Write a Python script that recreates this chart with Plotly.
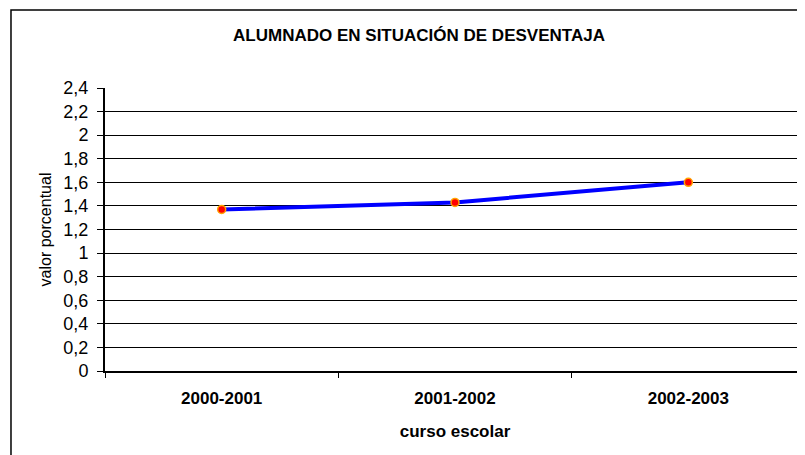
import plotly.graph_objects as go

# data
cursos = ['2000-2001', '2001-2002', '2002-2003']
valores = [1.37, 1.43, 1.60]
y_ticks = [0, 0.2, 0.4, 0.6, 0.8, 1, 1.2, 1.4, 1.6, 1.8, 2, 2.2, 2.4]

font_family = 'Liberation Sans, Arial, sans-serif'

fig = go.Figure()
fig.add_trace(go.Scatter(
    x=cursos, y=valores, mode='lines+markers',
    line=dict(color='#0000ff', width=4),
    marker=dict(color='#ff0000', size=8, line=dict(color='#ffa500', width=1.5)),
    showlegend=False
))

# the page adds an 8px body margin, so the figure is 8px smaller
fig.update_layout(
    width=797, height=447,
    margin=dict(l=97, r=0, t=80, b=84),
    paper_bgcolor='white', plot_bgcolor='white',
    font=dict(family=font_family, color='black', size=16),
    title=dict(text='<b>ALUMNADO EN SITUACIÓN DE DESVENTAJA</b>',
               x=0.4486, xref='paper', xanchor='center',
               y=1 - 27 / 447, yref='container', yanchor='middle',
               font=dict(size=17, family=font_family)),
    # outer chart border
    shapes=[dict(type='rect', xref='paper', yref='paper',
                 x0=-0.1343, x1=1.05, y0=-0.5, y1=1.2756,
                 line=dict(color='black', width=1.5), layer='below')]
)

fig.update_xaxes(
    type='category', range=[-0.5, 2.5],
    showline=True, linecolor='black', linewidth=2,
    ticks='outside', tickson='boundaries', ticklen=5, tickcolor='black',
    ticklabelstandoff=11,
    showgrid=False,
    tickfont=dict(size=17, family=font_family, weight='bold'),
    title=dict(text='<b>curso escolar</b>', font=dict(size=17), standoff=18)
)
fig.update_yaxes(
    range=[0, 2.4], tickvals=y_ticks,
    ticktext=[str(v).replace('.', ',') for v in y_ticks],
    showline=True, linecolor='black', linewidth=2,
    ticks='outside', ticklen=6, tickcolor='black',
    ticklabelstandoff=5,
    showgrid=True, gridcolor='black', gridwidth=1,
    zeroline=False,
    tickfont=dict(size=18, family=font_family),
    title=dict(text='valor porcentual', font=dict(size=16), standoff=8)
)

fig.write_html('out.html')
